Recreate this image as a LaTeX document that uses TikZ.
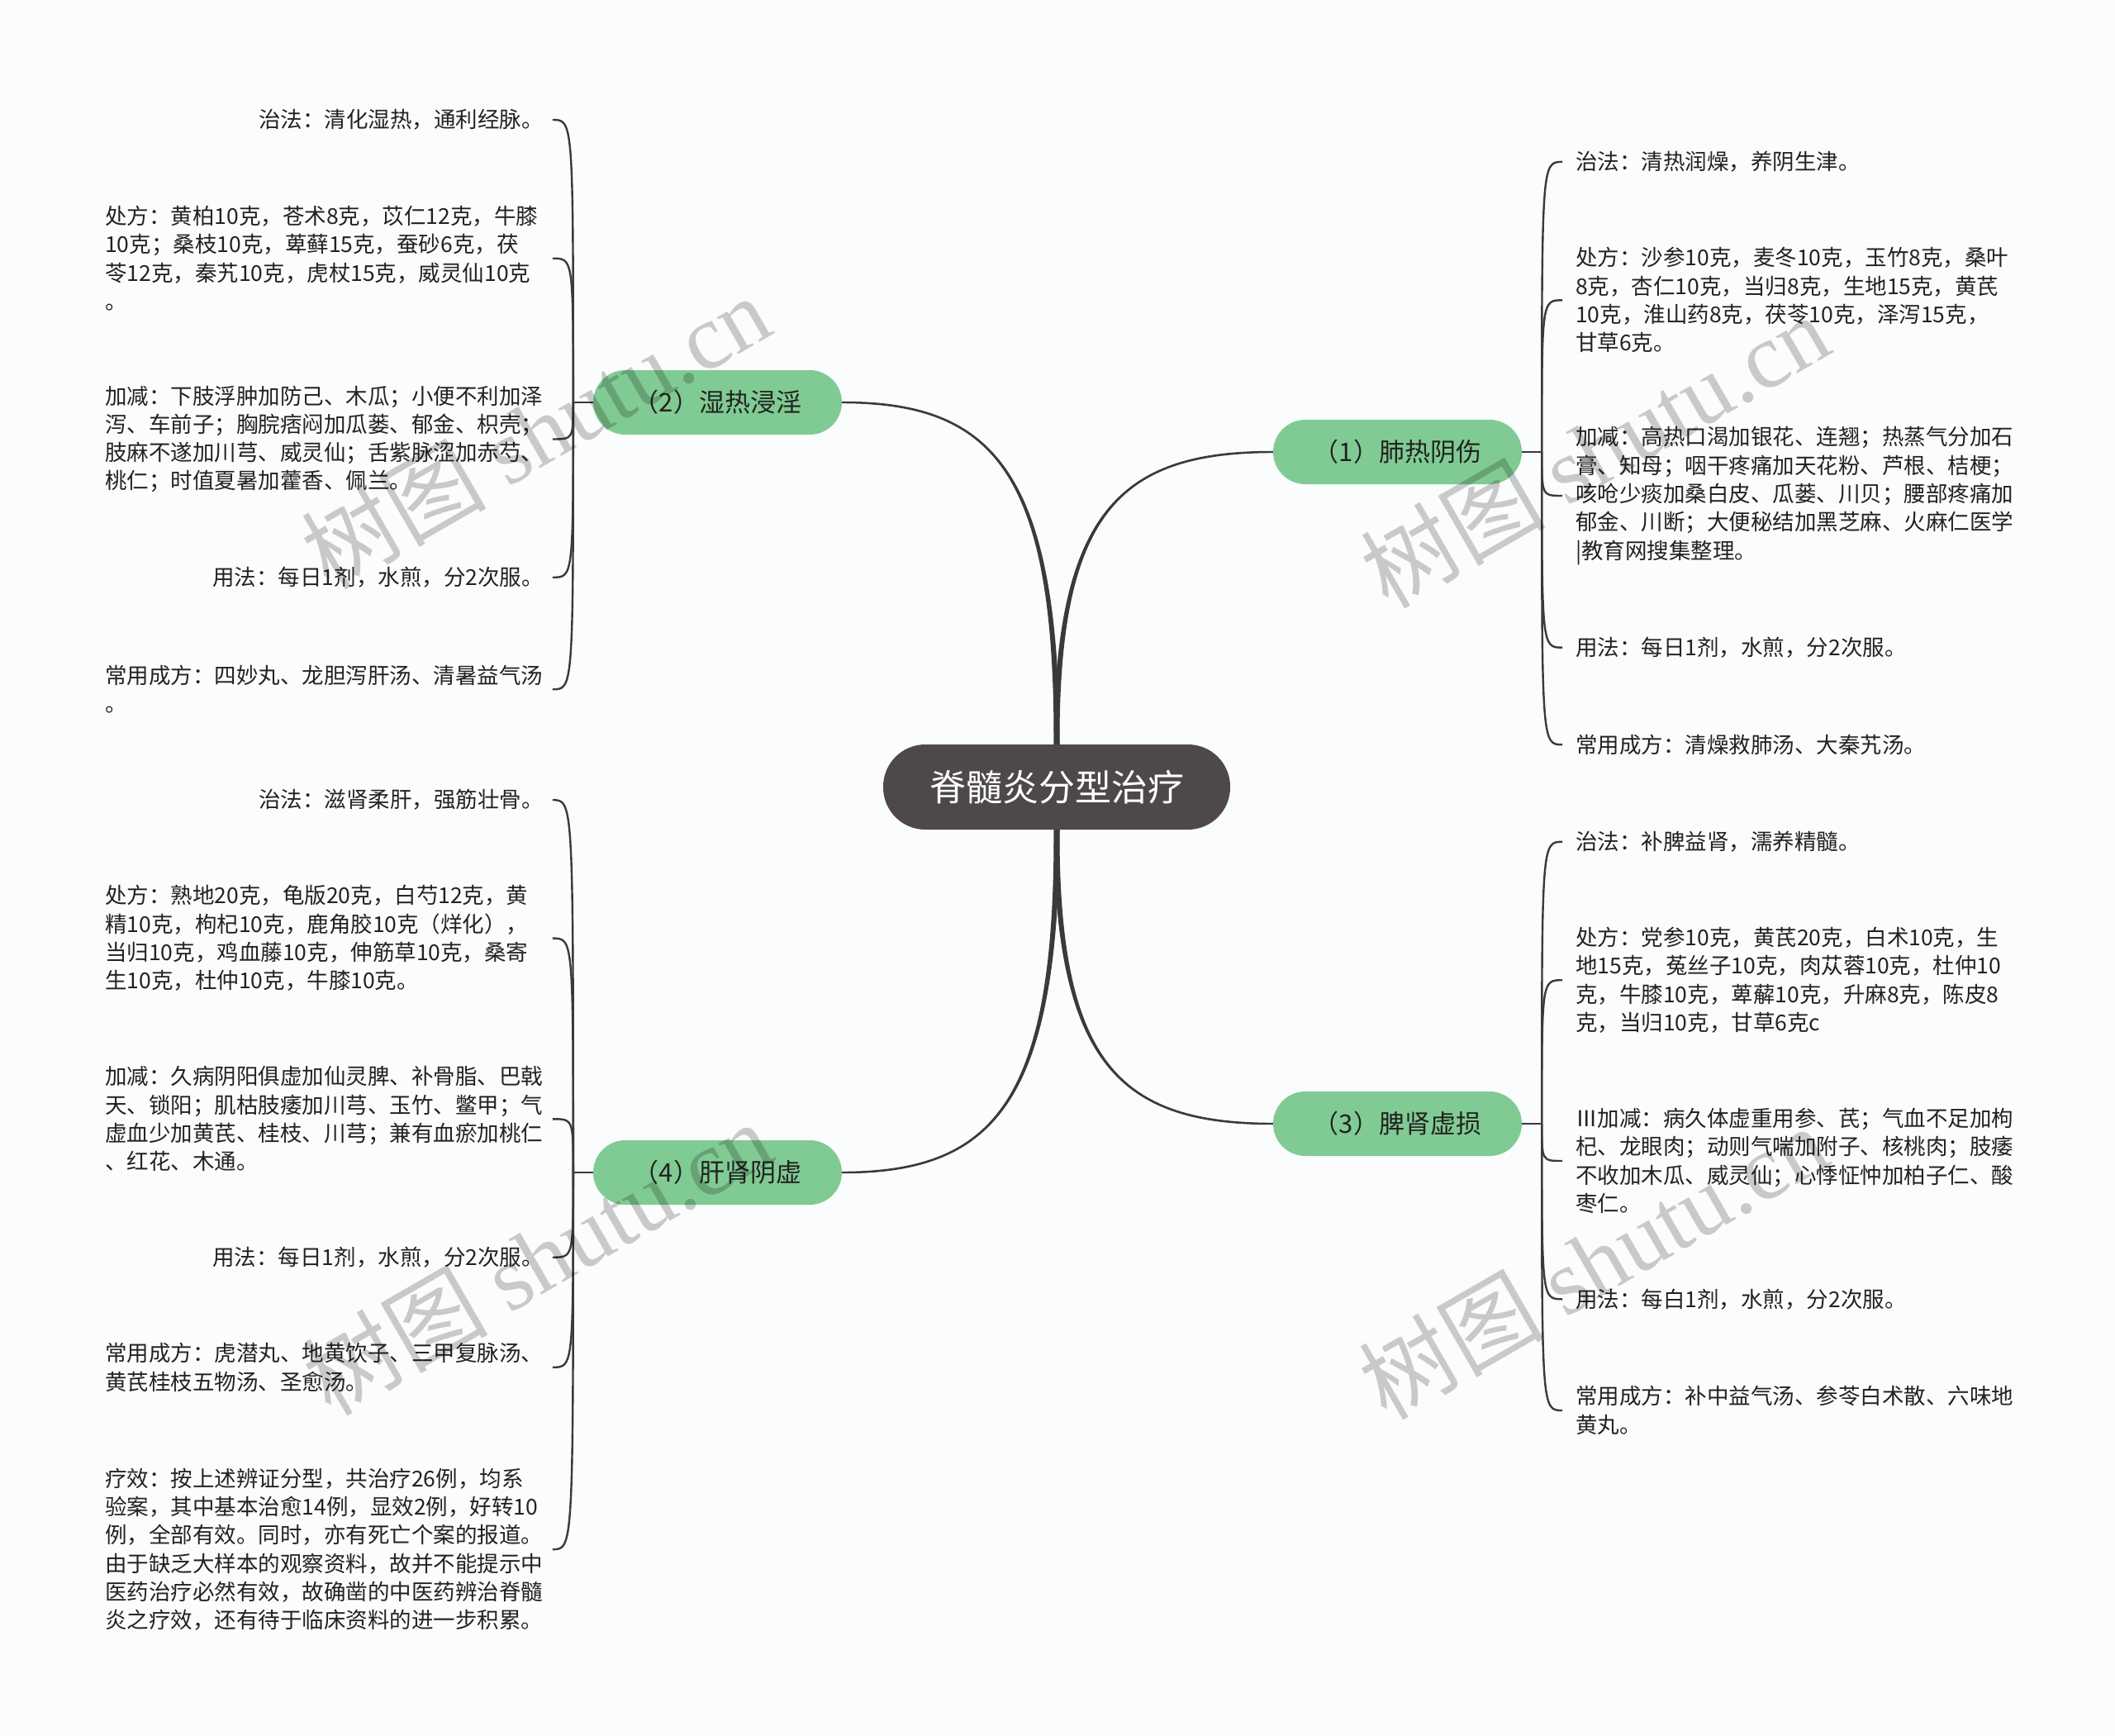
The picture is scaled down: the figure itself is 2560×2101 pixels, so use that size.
\documentclass[tikz,border=0pt]{standalone}
\usepackage{fontspec}
\setmainfont{Noto Sans CJK SC}
\newfontfamily\wmlatin{Liberation Serif}
\newfontfamily\wmcjk{Noto Sans CJK SC}
\usetikzlibrary{calc}
\definecolor{bgcol}{HTML}{FAFCFD}
\definecolor{rootfill}{HTML}{4D4949}
\definecolor{branchfill}{HTML}{80CB93}
\definecolor{linecol}{HTML}{3A3A3A}
\definecolor{txtcol}{HTML}{222222}
\newcommand{\mylink}[5]{%
  \fill[linecol] ($(#1)+({(#4)*3.5},0)$)
    .. controls ($(#1)!0.8!(#2)+({(#4)*2.5},0)$) and ($(#3)!0.7!(#2)+(0,{(#5)*1.8})$)
    .. ($(#3)+(0,{(#5)*1.2})$) -- ($(#3)+(0,{(-1)*(#5)*1.2})$)
    .. controls ($(#3)!0.7!(#2)+(0,{(-1)*(#5)*1.8})$) and ($(#1)!0.8!(#2)+({(-1)*(#4)*2.5},0)$)
    .. ($(#1)+({(-1)*(#4)*3.5},0)$) -- cycle;}
\begin{document}
\begin{tikzpicture}[x=1pt,y=-1pt,
  leaf/.style={inner sep=0pt, align=left, font=\fontsize{26.5}{34.3}\selectfont, text=txtcol},
  branch/.style={rectangle, rounded corners=39pt, fill=branchfill, minimum width=301pt, minimum height=78pt, inner sep=0pt, font=\fontsize{31}{36}\selectfont, text=txtcol},
  rootnode/.style={rectangle, rounded corners=51pt, fill=rootfill, minimum width=420pt, minimum height=103pt, inner sep=0pt, font=\fontsize{44}{50}\selectfont, text=white},
  bline/.style={draw=linecol, line width=2.6pt},
  wm/.style={rotate=30, text=black, opacity=0.2, inner sep=0pt}
]
\fill[bgcol] (0,0) rectangle (2560,2101);
\useasboundingbox (0,0) rectangle (2560,2101);

% root and branches
\node[rootnode] (root) at (1279,952.5) {脊髓炎分型治疗};
\node[branch] (b2) at (868.5,487) {（2）湿热浸淫};
\node[branch] (b1) at (1691.5,547) {（1）肺热阴伤};
\node[branch] (b3) at (1691.5,1360) {（3）脾肾虚损};
\node[branch] (b4) at (868.5,1419) {（4）肝肾阴虚};

\coordinate (c2) at (root.north |- b2.east);
\coordinate (c1) at (root.north |- b1.west);
\coordinate (c3) at (root.south |- b3.west);
\coordinate (c4) at (root.south |- b4.east);
\mylink{root.north}{c2}{b2.east}{1}{-1}
\mylink{root.north}{c1}{b1.west}{-1}{-1}
\mylink{root.south}{c4}{b4.east}{1}{1}
\mylink{root.south}{c3}{b3.west}{-1}{1}

\coordinate (j2) at ($(b2.west)+(-24,0)$);
\coordinate (j4) at ($(b4.west)+(-24,0)$);
\coordinate (j1) at ($(b1.east)+(24,0)$);
\coordinate (j3) at ($(b3.east)+(24,0)$);
\draw[bline] (b2.west) -- (j2);
\draw[bline] (b4.west) -- (j4);
\draw[bline] (b1.east) -- (j1);
\draw[bline] (b3.east) -- (j3);

% group 2 leaves
\node[leaf, anchor=east] (L2a) at (658,145) {治法：清化湿热，通利经脉。};
\node[leaf, anchor=west] (L2b) at (127,312.7) {处方：黄柏10克，苍术8克，苡仁12克，牛膝\\10克；桑枝10克，萆藓15克，蚕砂6克，茯\\苓12克，秦艽10克，虎杖15克，威灵仙10克\\。};
\node[leaf, anchor=west] (L2c) at (127,531.5) {加减：下肢浮肿加防己、木瓜；小便不利加泽\\泻、车前子；胸脘痞闷加瓜蒌、郁金、枳壳；\\肢麻不遂加川芎、威灵仙；舌紫脉涩加赤芍、\\桃仁；时值夏暑加藿香、佩兰。};
\node[leaf, anchor=east] (L2d) at (658,698.8) {用法：每日1剂，水煎，分2次服。};
\node[leaf, anchor=west] (L2e) at (127,834.3) {常用成方：四妙丸、龙胆泻肝汤、清暑益气汤\\。};

% group 1 leaves
\node[leaf, anchor=west] (L1a) at (1907,195.9) {治法：清热润燥，养阴生津。};
\node[leaf, anchor=west] (L1b) at (1907,363.3) {处方：沙参10克，麦冬10克，玉竹8克，桑叶\\8克，杏仁10克，当归8克，生地15克，黄芪\\10克，淮山药8克，茯苓10克，泽泻15克，\\甘草6克。};
\node[leaf, anchor=west] (L1c) at (1907,600) {加减：高热口渴加银花、连翘；热蒸气分加石\\膏、知母；咽干疼痛加天花粉、芦根、桔梗；\\咳呛少痰加桑白皮、瓜蒌、川贝；腰部疼痛加\\郁金、川断；大便秘结加黑芝麻、火麻仁医学\\|教育网搜集整理。};
\node[leaf, anchor=west] (L1d) at (1907,783.7) {用法：每日1剂，水煎，分2次服。};
\node[leaf, anchor=west] (L1e) at (1907,901.2) {常用成方：清燥救肺汤、大秦艽汤。};

% group 3 leaves
\node[leaf, anchor=west] (L3a) at (1907,1018.8) {治法：补脾益肾，濡养精髓。};
\node[leaf, anchor=west] (L3b) at (1907,1186.2) {处方：党参10克，黄芪20克，白术10克，生\\地15克，菟丝子10克，肉苁蓉10克，杜仲10\\克，牛膝10克，萆薢10克，升麻8克，陈皮8\\克，当归10克，甘草6克c};
\node[leaf, anchor=west] (L3c) at (1907,1405) {Ⅲ加减：病久体虚重用参、芪；气血不足加枸\\杞、龙眼肉；动则气喘加附子、核桃肉；肢痿\\不收加木瓜、威灵仙；心悸怔忡加柏子仁、酸\\枣仁。};
\node[leaf, anchor=west] (L3d) at (1907,1572.3) {用法：每白1剂，水煎，分2次服。};
\node[leaf, anchor=west] (L3e) at (1907,1707) {常用成方：补中益气汤、参苓白术散、六味地\\黄丸。};

% group 4 leaves
\node[leaf, anchor=east] (L4a) at (658,968.2) {治法：滋肾柔肝，强筋壮骨。};
\node[leaf, anchor=west] (L4b) at (127,1135.6) {处方：熟地20克，龟版20克，白芍12克，黄\\精10克，枸杞10克，鹿角胶10克（烊化），\\当归10克，鸡血藤10克，伸筋草10克，桑寄\\生10克，杜仲10克，牛膝10克。};
\node[leaf, anchor=west] (L4c) at (127,1354.3) {加减：久病阴阳俱虚加仙灵脾、补骨脂、巴戟\\天、锁阳；肌枯肢痿加川芎、玉竹、鳖甲；气\\虚血少加黄芪、桂枝、川芎；兼有血瘀加桃仁\\、红花、木通。};
\node[leaf, anchor=east] (L4d) at (658,1521.7) {用法：每日1剂，水煎，分2次服。};
\node[leaf, anchor=west] (L4e) at (127,1654.8) {常用成方：虎潜丸、地黄饮子、三甲复脉汤、\\黄芪桂枝五物汤、圣愈汤。};
\node[leaf, anchor=west] (L4f) at (127,1875.1) {疗效：按上述辨证分型，共治疗26例，均系\\验案，其中基本治愈14例，显效2例，好转10\\例，全部有效。同时，亦有死亡个案的报道。\\由于缺乏大样本的观察资料，故并不能提示中\\医药治疗必然有效，故确凿的中医药辨治脊髓\\炎之疗效，还有待于临床资料的进一步积累。};

% brackets
\foreach \j/\lst in {j2/{L2a,L2b,L2c,L2d,L2e}, j4/{L4a,L4b,L4c,L4d,L4e,L4f}}{
  \foreach \l in \lst {
    \draw[bline, line width=2.4pt] (\j) .. controls (\j |- \l.west) .. ($(\j |- \l.west)+(-25,0)$);
  }
}
\foreach \j/\lst in {j1/{L1a,L1b,L1c,L1d,L1e}, j3/{L3a,L3b,L3c,L3d,L3e}}{
  \foreach \l in \lst {
    \draw[bline, line width=2.4pt] (\j) .. controls (\j |- \l.west) .. ($(\j |- \l.west)+(25,0)$);
  }
}

% watermarks
\node[wm] (wm1) at (648,522) {\fontsize{112}{112}\selectfont{\wmcjk 树图} {\wmlatin shutu.cn}};
\node[wm] (wm2) at (1930,545) {\fontsize{112}{112}\selectfont{\wmcjk 树图} {\wmlatin shutu.cn}};
\node[wm] (wm3) at (650,1522) {\fontsize{112}{112}\selectfont{\wmcjk 树图} {\wmlatin shutu.cn}};
\node[wm] (wm4) at (1928,1527) {\fontsize{112}{112}\selectfont{\wmcjk 树图} {\wmlatin shutu.cn}};
\end{tikzpicture}
\end{document}
